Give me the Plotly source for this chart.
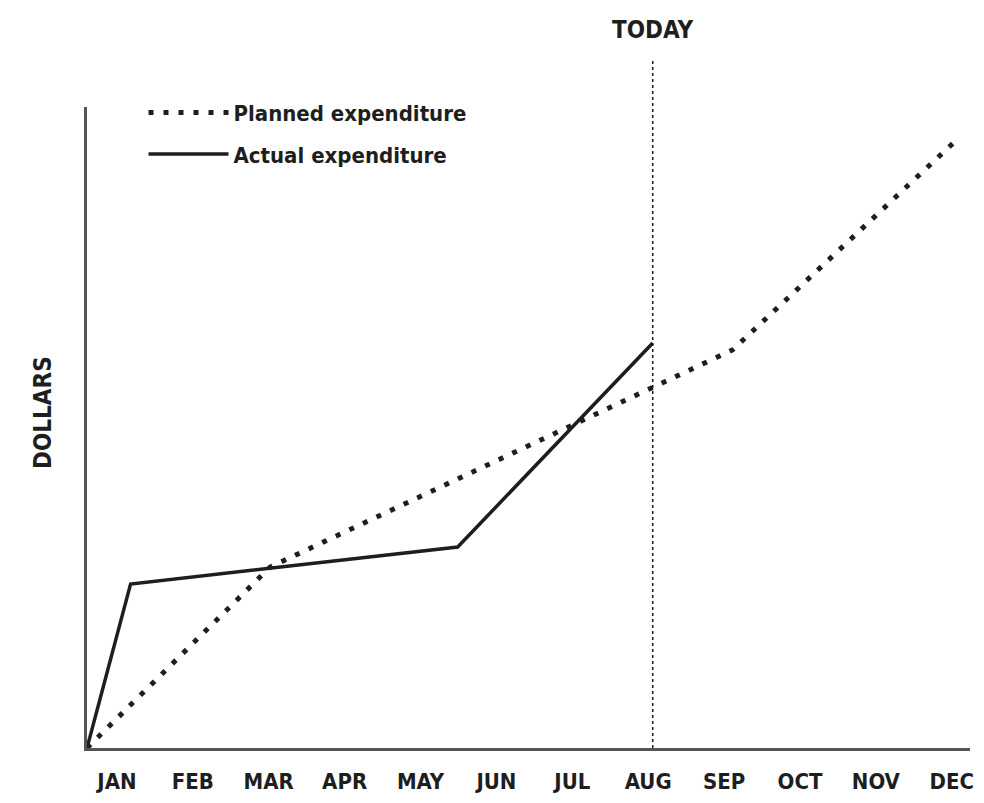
import plotly.graph_objects as go

# Month tick labels
months = ["JAN", "FEB", "MAR", "APR", "MAY", "JUN",
          "JUL", "AUG", "SEP", "OCT", "NOV", "DEC"]
month_pos = list(range(1, 13))

# Planned expenditure (x in month units, y in arbitrary dollar units)
planned_x = [0.606, 3.02, 9.11, 12.09]
planned_y = [0.0, 18.1, 39.8, 61.0]

# Actual expenditure
actual_x = [0.606, 1.18, 5.49, 8.06]
actual_y = [0.0, 16.4, 20.1, 40.5]

today_x = 8.06

FONT = "DejaVu Sans Condensed, Liberation Sans Narrow, Roboto Condensed, DejaVu Sans, sans-serif"
INK = "#1e1e1e"

fig = go.Figure()
fig.add_trace(go.Scatter(
    x=planned_x, y=planned_y, mode="lines", name="Planned expenditure",
    legendgroup="planned",
    line=dict(color=INK, width=5, dash="5px,10px"),
    cliponaxis=False,
))
fig.add_trace(go.Scatter(
    x=actual_x, y=actual_y, mode="lines", name="Actual expenditure",
    legendgroup="actual",
    line=dict(color=INK, width=3.5),
    cliponaxis=False,
))

fig.add_shape(type="line", xref="x", yref="paper",
              x0=today_x, x1=today_x, y0=0, y1=1.076,
              line=dict(color=INK, width=1.5, dash="dot"))
fig.add_annotation(x=today_x, xref="x", y=1.12, yref="paper",
                   xanchor="center", yanchor="middle",
                   text="TODAY", showarrow=False,
                   font=dict(family=FONT, size=24, color=INK, weight="bold"))
fig.add_annotation(x=-0.05, xref="paper", y=0.524, yref="paper",
                   xanchor="center", yanchor="middle", textangle=-90,
                   text="DOLLARS", showarrow=False,
                   font=dict(family=FONT, size=24, color=INK, weight="bold"))

# The page body adds an 8px margin, so the figure is sized to stay inside the window
fig.update_layout(
    width=976, height=787,
    margin=dict(l=79, r=14, t=99, b=47, autoexpand=False),
    paper_bgcolor="white", plot_bgcolor="white",
    font=dict(family=FONT, color=INK, weight="bold"),
    showlegend=True,
    legend=dict(x=0.064, y=1.024, xanchor="left", yanchor="top",
                bgcolor="rgba(0,0,0,0)",
                font=dict(family=FONT, size=22, color=INK, weight="bold"),
                itemwidth=80, tracegroupgap=10),
    xaxis=dict(range=[0.606, 12.24], tickvals=month_pos, ticktext=months,
               showgrid=False, zeroline=False, showline=True,
               linecolor="#555555", linewidth=2.5, ticks="",
               ticklabelstandoff=12, automargin=False,
               ticklabeloverflow="allow",
               tickfont=dict(family=FONT, size=22, color=INK, weight="bold")),
    yaxis=dict(range=[0, 64.1], showgrid=False, zeroline=False,
               showline=True, linecolor="#555555", linewidth=2.5,
               showticklabels=False, ticks="", automargin=False),
)

fig.write_html("out.html")
